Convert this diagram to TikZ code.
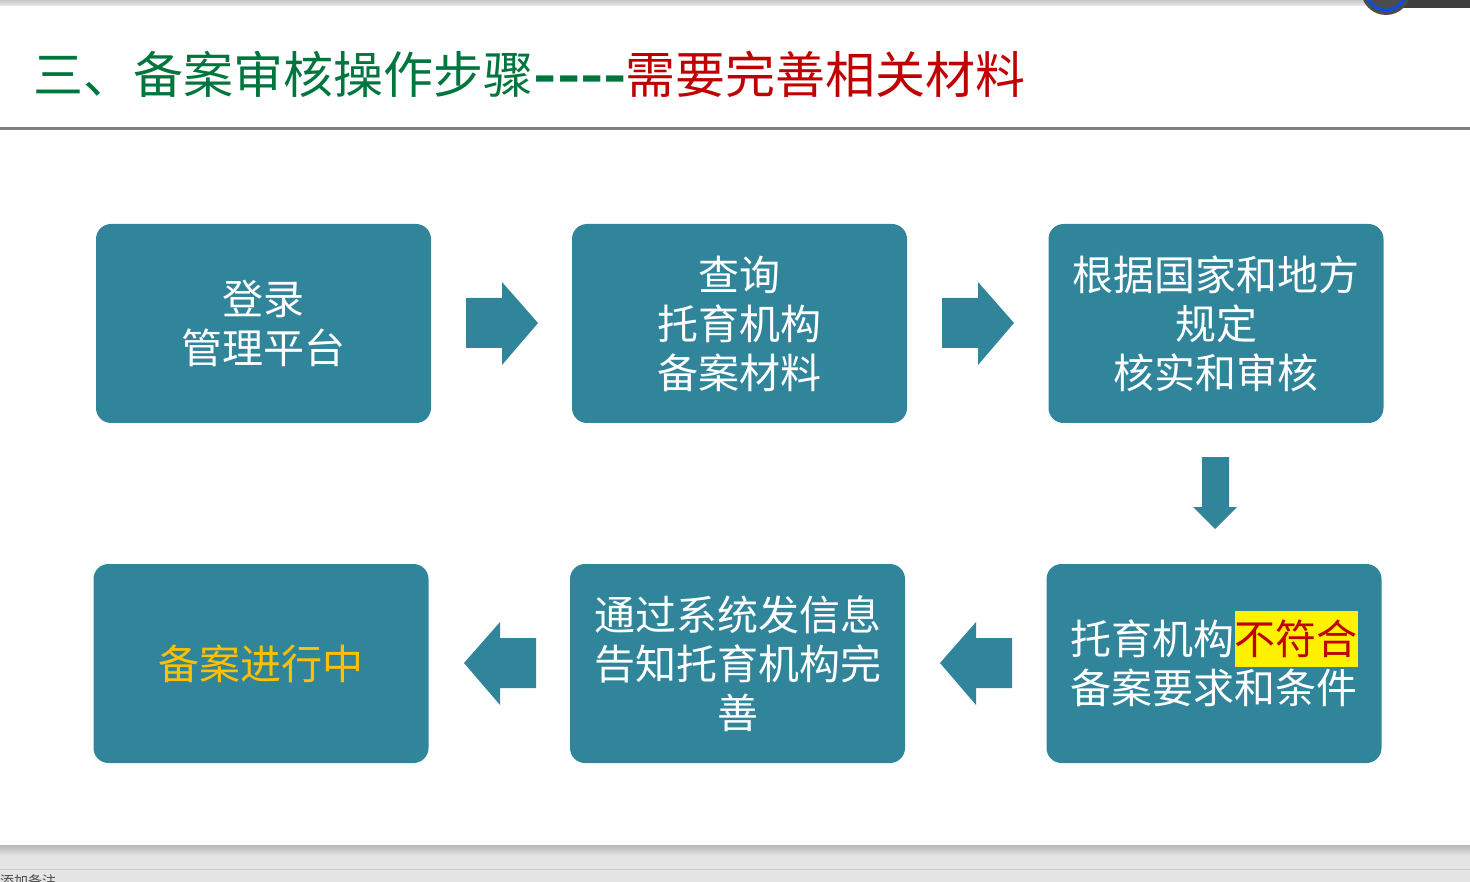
\documentclass[tikz,border=0pt]{standalone}
\usepackage{fontspec}
\newfontfamily\cjk{Noto Sans CJK SC}
\definecolor{blauwgroen}{RGB}{49,133,155}
\definecolor{titelgroen}{RGB}{0,118,62}
\definecolor{titelrood}{RGB}{192,0,0}
\definecolor{oranje}{RGB}{255,192,0}
\tikzset{
  blok/.style={fill=blauwgroen, rounded corners=15pt, minimum width=335pt,
    minimum height=199pt, inner sep=0pt, text=white, align=center,
    font=\cjk\fontsize{41}{49}\selectfont},
  pijl/.style={fill=blauwgroen},
  titel/.style={anchor=base west, inner sep=0pt, font=\cjk\fontsize{50}{60}\selectfont}
}
\begin{document}
\begin{tikzpicture}[x=1pt,y=-1pt]
    \useasboundingbox (0,0) rectangle (1470,882);
    \clip (0,0) rectangle (1470,882);
    % venster boven
    \shade[top color=black!22, bottom color=black!8] (0,0) rectangle (1470,6);
    \fill[black!75] (1400,-20) rectangle (1470,8);
    \fill[black!70] (1386,-10) circle (25);
    \draw[blue!70!cyan, line width=2.5pt] (1386,-10) circle (20);
    % titel
    \node[titel, text=titelgroen] (t1) at (33,94) {三、备案审核操作步骤};
    \node[titel, text=titelgroen, xscale=1.22, font=\cjk\bfseries\fontsize{50}{60}\selectfont] (t2) at (t1.base east) {----};
    \node[titel, text=titelrood] (t3) at (625,94) {需要完善相关材料};
    \draw[black!50, line width=3pt] (0,128.5) -- (1470,128.5);
    % blokken
    \node[blok] (login) at (263.5,323.5) {登录\\管理平台};
    \node[blok] (query) at (739.5,323.5) {查询\\托育机构\\备案材料};
    \node[blok] (check) at (1216,323.5) {根据国家和地方\\规定\\核实和审核};
    \node[blok] (fail) at (1214,663.5) {托育机构\smash{\setlength\fboxsep{0pt}\colorbox{yellow}{\rule[-0.3em]{0pt}{1.37em}\color{titelrood}不符合}}\\备案要求和条件};
    \node[blok] (notify) at (737.5,663.5) {通过系统发信息\\告知托育机构完\\善};
    \node[blok, text=oranje] (busy) at (261,663.5) {备案进行中};
    % pijlen
    \fill[pijl] (466,298) -- (502,298) -- (502,282) -- (538,323) -- (502,365) -- (502,348) -- (466,348) -- cycle;
    \fill[pijl] (942,298) -- (978,298) -- (978,282) -- (1014,323) -- (978,365) -- (978,348) -- (942,348) -- cycle;
    \fill[pijl] (1202,457) -- (1229,457) -- (1229,507) -- (1237,507) -- (1215,529) -- (1193,507) -- (1202,507) -- cycle;
    \fill[pijl] (1012,638) -- (976,638) -- (976,622) -- (940,663) -- (976,705) -- (976,688) -- (1012,688) -- cycle;
    \fill[pijl] (536,638) -- (500,638) -- (500,622) -- (464,663) -- (500,705) -- (500,688) -- (536,688) -- cycle;
    % venster onder
    \fill[black!10] (0,847) rectangle (1470,882);
    \shade[top color=black!28, bottom color=black!10] (0,845) rectangle (1470,856);
    \draw[black!20] (0,869) -- (1470,869);
    \node[anchor=north west, inner sep=0pt, text=black!70, font=\cjk\fontsize{14}{14}\selectfont] (notes) at (0,874) {添加备注};
\end{tikzpicture}
\end{document}
